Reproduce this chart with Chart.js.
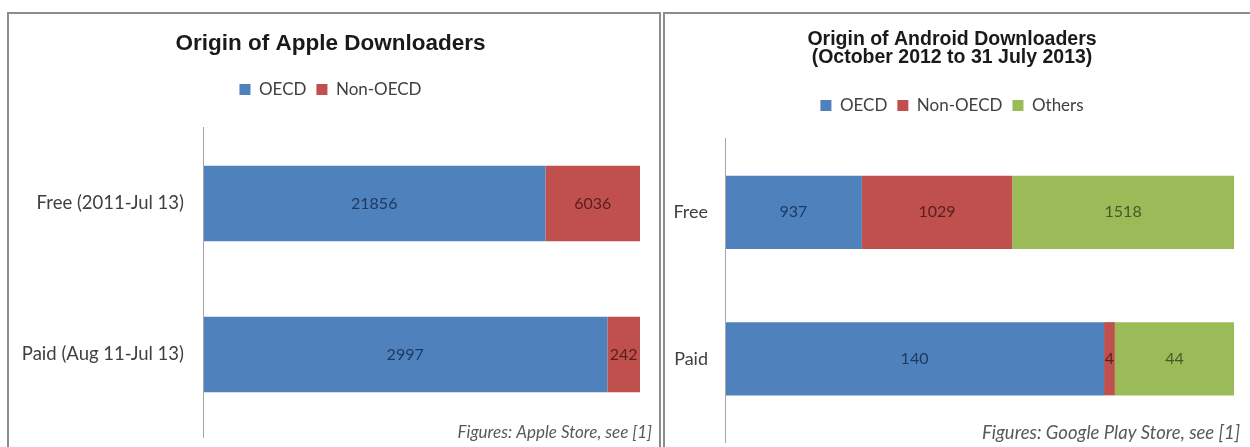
<!DOCTYPE html>
<html>
<head>
<meta charset="utf-8">
<script src="https://cdn.jsdelivr.net/npm/chart.js@4"></script>
<style>
  html, body { margin: 0; padding: 0; background: #fff; overflow: hidden; }
  .panel { position: absolute; top: 12px; height: 460px; border: 2px solid #8c8c8c; background: #fff; }
  #applePanel { left: 7px; width: 650px; }
  #androidPanel { left: 663px; width: 600px; }
  canvas { display: block; }
</style>
</head>
<body>
<div class="panel" id="applePanel"><canvas id="appleChart" width="650" height="433"></canvas></div>
<div class="panel" id="androidPanel"><canvas id="androidChart" width="585" height="433"></canvas></div>
<script>
const seriesNames = ['OECD', 'Non-OECD', 'Others'];
const seriesColors = ['#4f81bd', '#c0504d', '#9bbb59'];
const labelColors = ['#1f3a60', '#5a1e1c', '#45582a'];

const appleCategories = ['Free (2011-Jul 13)', 'Paid (Aug 11-Jul 13)'];
const appleOecd = [21856, 2997];
const appleNonOecd = [6036, 242];

const androidCategories = ['Free', 'Paid'];
const androidOecd = [937, 140];
const androidNonOecd = [1029, 4];
const androidOthers = [1518, 44];

Chart.defaults.font.family = 'Lato, sans-serif';
Chart.defaults.color = '#404040';

// share of each row total, so every bar runs 0..100
function toPercent(series) {
    const totals = series[0].map((_, i) => series.reduce((s, arr) => s + arr[i], 0));
    return series.map(arr => arr.map((v, i) => v / totals[i] * 100));
}

// raw counts written in the middle of each segment
const valueLabels = {
    id: 'valueLabels',
    afterDatasetsDraw(chart) {
        const ctx = chart.ctx;
        ctx.save();
        ctx.font = '16px Lato';
        ctx.textAlign = 'center';
        ctx.textBaseline = 'middle';
        chart.data.datasets.forEach((ds, d) => {
            chart.getDatasetMeta(d).data.forEach((bar, i) => {
                ctx.fillStyle = ds.labelColor;
                ctx.fillText(ds.counts[i], (bar.x + bar.base) / 2, bar.y);
            });
        });
        ctx.restore();
    }
};

// category axis line, running a little past the plot like Excel's
const axisLine = {
    id: 'axisLine',
    afterDraw(chart, args, opts) {
        const y = chart.scales.y;
        const ctx = chart.ctx;
        ctx.save();
        ctx.strokeStyle = '#a6a6a6';
        ctx.lineWidth = 1;
        ctx.beginPath();
        ctx.moveTo(y.right + 0.5, y.top - 1);
        ctx.lineTo(y.right + 0.5, y.bottom + opts.tail);
        ctx.stroke();
        ctx.restore();
    }
};

// source note in the bottom right corner
const footNote = {
    id: 'footNote',
    afterDraw(chart, args, opts) {
        const ctx = chart.ctx;
        ctx.save();
        ctx.font = 'italic ' + opts.size + 'px Lato';
        ctx.fillStyle = '#595959';
        ctx.textAlign = 'right';
        ctx.textBaseline = 'middle';
        ctx.fillText(opts.text, chart.width - opts.right, chart.height - opts.bottom);
        ctx.restore();
    }
};

function drawStackedChart(canvasId, o) {
    const shares = toPercent(o.series);
    return new Chart(document.getElementById(canvasId), {
        type: 'bar',
        data: {
            labels: o.categories,
            datasets: o.series.map((counts, k) => ({
                label: seriesNames[k],
                data: shares[k],
                counts: counts,
                labelColor: labelColors[k],
                backgroundColor: seriesColors[k],
                borderWidth: 0,
                barPercentage: 0.5,
                categoryPercentage: 1
            }))
        },
        options: {
            indexAxis: 'y',
            responsive: false,
            animation: false,
            layout: { padding: { left: o.padLeft, right: o.padRight, bottom: o.padBottom } },
            plugins: {
                title: {
                    display: true,
                    text: o.title,
                    color: '#1a1a1a',
                    font: { family: 'Liberation Sans', size: o.titleSize, weight: 'bold', lineHeight: o.titleLine },
                    padding: { top: o.titleTop, bottom: o.titleBottom }
                },
                legend: {
                    labels: { boxWidth: 11, boxHeight: 11, padding: 10, font: { size: 17 } }
                },
                tooltip: { enabled: false },
                axisLine: { tail: o.axisTail },
                footNote: { text: o.note, size: o.noteSize, right: o.noteRight, bottom: 14 }
            },
            scales: {
                x: {
                    stacked: true,
                    min: 0,
                    max: 100,
                    position: 'top',
                    grid: { display: false },
                    border: { display: false },
                    ticks: { display: false },
                    afterFit: s => { s.height = o.gapTop; }
                },
                y: {
                    stacked: true,
                    // tickLength only sets the gap between labels and the axis line
                    grid: { display: false, tickLength: o.tickGap },
                    border: { display: false },
                    ticks: { font: { size: o.tickSize }, padding: 0 },
                    afterFit: s => { s.width = o.axisLeft; }
                }
            }
        },
        plugins: [valueLabels, axisLine, footNote]
    });
}

drawStackedChart('appleChart', {
    title: 'Origin of Apple Downloaders',
    titleSize: 22.5, titleLine: 1.2, titleTop: 16, titleBottom: 14,
    categories: appleCategories,
    series: [appleOecd, appleNonOecd],
    gapTop: 20, axisLeft: 182, padLeft: 12, padRight: 19, padBottom: 17,
    tickGap: 19, tickSize: 18.5, axisTail: 8,
    note: 'Figures: Apple Store, see [1]', noteSize: 17, noteRight: 7
});

drawStackedChart('androidChart', {
    title: ['Origin of Android Downloaders', '(October 2012 to 31 July 2013)'],
    titleSize: 19.5, titleLine: 0.9, titleTop: 17, titleBottom: 20.9,
    categories: androidCategories,
    series: [androidOecd, androidNonOecd, androidOthers],
    gapTop: 15, axisLeft: 55, padLeft: 5, padRight: 16, padBottom: 15,
    tickGap: 17, tickSize: 18, axisTail: 11,
    note: 'Figures: Google Play Store, see [1]', noteSize: 18.5, noteRight: 10
});
</script>
</body>
</html>
